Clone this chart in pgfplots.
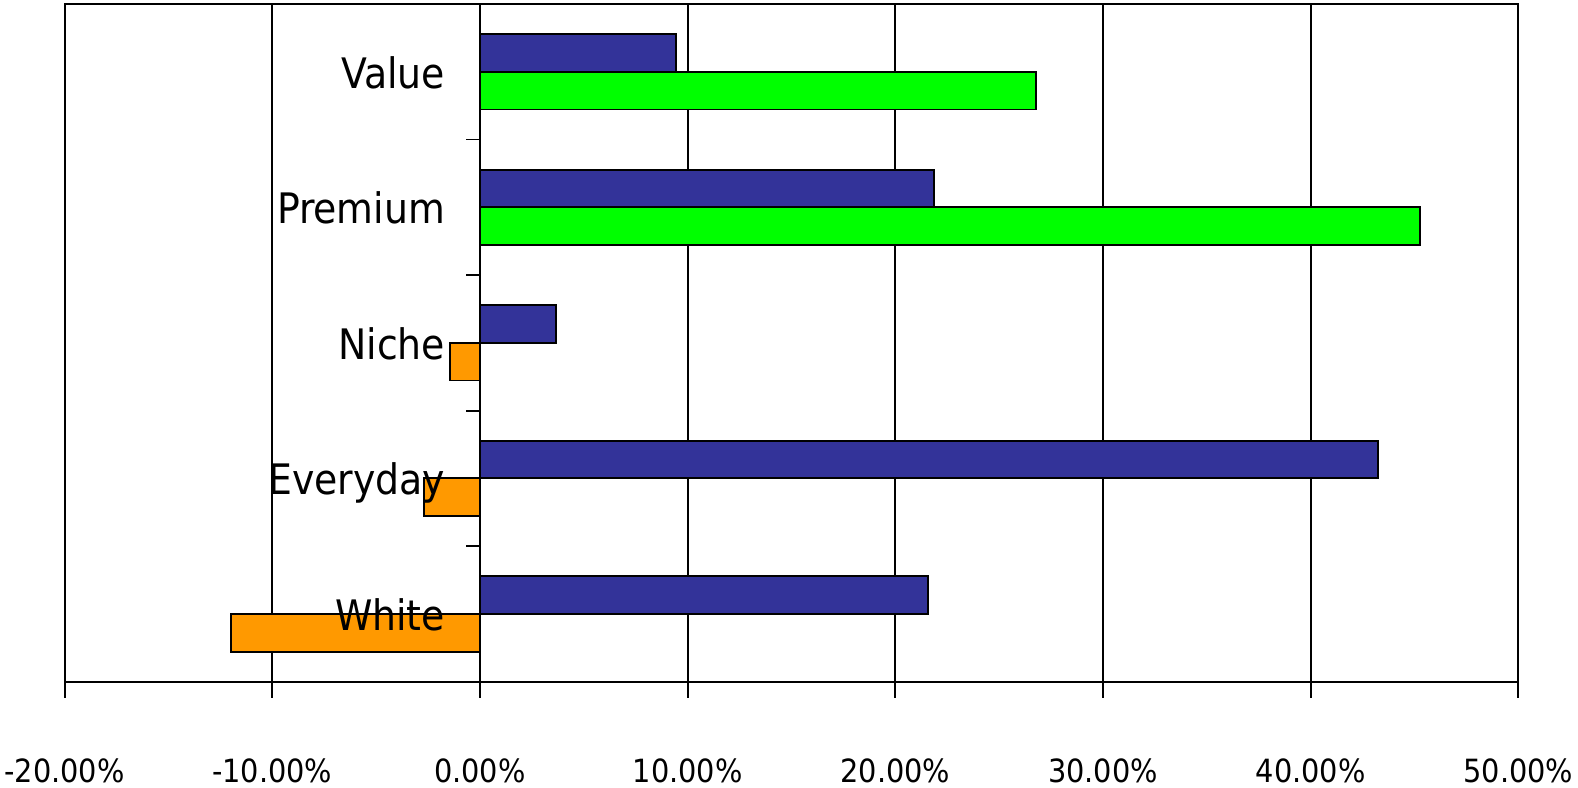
\documentclass[border=0pt]{standalone}
\usepackage{pgfplots}
\pgfplotsset{compat=1.18}
\usepackage{fontspec}
\setmainfont{DejaVu Sans Condensed}
\definecolor{barblue}{HTML}{333399}
\definecolor{bargreen}{HTML}{00FF00}
\definecolor{barorange}{HTML}{FF9900}

% y: 0=White 1=Everyday 2=Niche 3=Premium 4=Value
\pgfplotstableread{
x y
21.59 0
43.26 1
3.68 2
21.85 3
9.45 4
}\seriesA
\pgfplotstableread{
x y
26.78 4
45.27 3
}\seriesBpos
\pgfplotstableread{
x y
-12.0 0
-2.7 1
-1.45 2
}\seriesBneg

\begin{document}
\begin{tikzpicture}
\path[use as bounding box] (-32.3pt,-52.65pt) rectangle (756.7pt,340.85pt);
\begin{axis}[
    at={(0,0)}, anchor=south west,
    scale only axis,
    width=726.85pt, height=338.85pt,
    xmin=-20, xmax=50, ymin=-0.5, ymax=4.5,
    xtick={-20,-10,...,50},
    xtick pos=left, tick align=outside,
    major tick length=8pt,
    ytick=\empty,
    xmajorgrids,
    grid style={black, line width=0.95pt},
    axis line style={black, line width=0.95pt},
    tick style={black, line width=0.95pt},
    /pgf/number format/assume math mode=true,
    xticklabel={\pgfmathprintnumber[fixed,fixed zerofill,precision=2]{\tick}\%},
    xticklabel style={font=\fontsize{16}{19}\selectfont, anchor=base, yshift=-42.2pt},
    xbar, bar width=0.278,
    clip=false,
]
\addplot[xbar, fill=barblue, draw=black, line width=0.9pt, bar shift=0.139] table {\seriesA};
\addplot[xbar, fill=bargreen, draw=black, line width=0.9pt, bar shift=-0.139] table {\seriesBpos};
\addplot[xbar, fill=barorange, draw=black, line width=0.9pt, bar shift=-0.139] table {\seriesBneg};

\draw[line width=0.95pt] (axis cs:0,0.5) -- ([xshift=-7pt]axis cs:0,0.5);
\draw[line width=0.95pt] (axis cs:0,1.5) -- ([xshift=-7pt]axis cs:0,1.5);
\draw[line width=0.95pt] (axis cs:0,2.5) -- ([xshift=-7pt]axis cs:0,2.5);
\draw[line width=0.95pt] (axis cs:0,3.5) -- ([xshift=-7pt]axis cs:0,3.5);

\node[anchor=base east, inner sep=0pt, xshift=-17.25pt, yshift=-8.25pt, font=\fontsize{21}{25}\selectfont] at (axis cs:0,4) {Value};
\node[anchor=base east, inner sep=0pt, xshift=-17.25pt, yshift=-8.25pt, font=\fontsize{21}{25}\selectfont] at (axis cs:0,3) {Premium};
\node[anchor=base east, inner sep=0pt, xshift=-17.25pt, yshift=-8.25pt, font=\fontsize{21}{25}\selectfont] at (axis cs:0,2) {Niche};
\node[anchor=base east, inner sep=0pt, xshift=-17.25pt, yshift=-8.25pt, font=\fontsize{21}{25}\selectfont] at (axis cs:0,1) {Everyday};
\node[anchor=base east, inner sep=0pt, xshift=-17.25pt, yshift=-8.25pt, font=\fontsize{21}{25}\selectfont] at (axis cs:0,0) {White};
\end{axis}
\end{tikzpicture}
\end{document}
